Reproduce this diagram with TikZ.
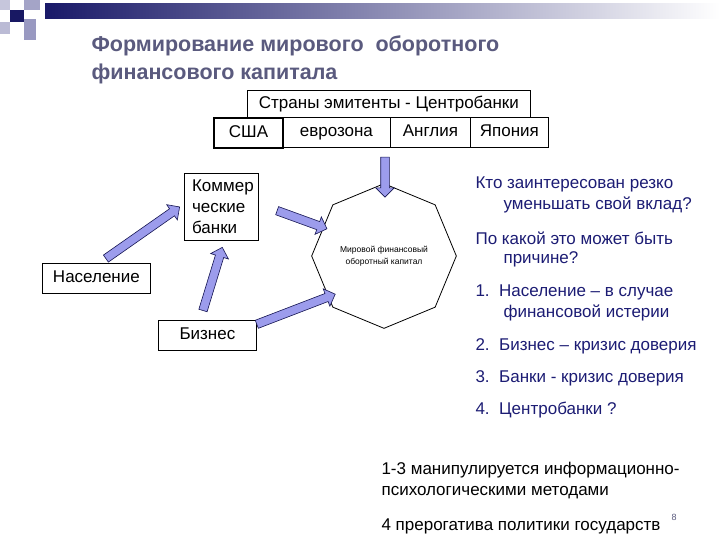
\documentclass[tikz,border=0pt]{standalone}
\usepackage{fontspec}
\setmainfont{Liberation Sans}
\usetikzlibrary{shapes.geometric,shapes.arrows}
\definecolor{ttl}{HTML}{5A5A7E}
\definecolor{nav}{HTML}{1C1C74}
\definecolor{afill}{HTML}{9C9CEC}
\tikzset{box/.style={draw,line width=0.8pt,inner sep=0pt,anchor=north west,text height=12pt,text depth=3pt},
fat/.style={single arrow,draw=nav!70!black,fill=afill,line width=0.6pt,single arrow head extend=5pt,single arrow head indent=0pt,inner sep=4pt,anchor=center},
rt/.style={anchor=west,text=nav,font=\fontsize{17}{20}\selectfont,align=left}}
\begin{document}
\begin{tikzpicture}[x=1pt,y=-1pt]
\useasboundingbox (0,0) rectangle (720,540);
\fill[white] (0,0) rectangle (720,540);
% decoration
\shade[left color=nav!90!black,right color=white] (45,4) rectangle (720,19);
\fill[nav!25] (0,0) rectangle (10,10);
\fill[nav!40] (24,0) rectangle (40,10);
\fill[nav!85!black] (10,10) rectangle (24,22);
\fill[nav!30] (0,22) rectangle (10,34);
\fill[nav!45] (24,19) rectangle (36,40);
\node[anchor=west,text=ttl,font=\bfseries\fontsize{21.5}{26}\selectfont] (t1) at (88,46) {Формирование мирового\ \ оборотного};
\node[anchor=west,text=ttl,font=\bfseries\fontsize{21.5}{26}\selectfont] (t2) at (88,74) {финансового капитала};
\begin{scope}[font=\fontsize{17}{21}\selectfont]
\node[box,minimum width=283pt,minimum height=27pt] (cb) at (247,90) {Страны эмитенты - Центробанки};
\node[box,minimum width=108pt,minimum height=30pt] (eu) at (282,117) {еврозона};
\node[box,minimum width=80pt,minimum height=30pt] (en) at (390,117) {Англия};
\node[box,minimum width=78pt,minimum height=30pt] (jp) at (470,117) {Япония};
\node[box,line width=2pt,minimum width=69pt,minimum height=30pt] (us) at (213,117) {США};
\node[draw,line width=0.8pt,inner sep=0pt,anchor=north west,minimum width=74pt,minimum height=67pt,align=left,text width=70pt,font=\fontsize{17}{21}\selectfont] (kb) at (184,173) {\ Коммер\\ \ ческие\\ \ банки};
\node[box,minimum width=108pt,minimum height=30pt] (pop) at (42,263) {Население};
\node[box,minimum width=98pt,minimum height=30pt] (biz) at (158,320) {Бизнес};
\end{scope}
\node[draw,line width=0.8pt,regular polygon,regular polygon sides=8,shape border rotate=22.5,minimum size=116pt,align=center,font=\fontsize{8.5}{12}\selectfont] (oct) at (384,256) {Мировой финансовый\\оборотный капитал};
% arrows
\node[fat,rotate=35,minimum height=90pt] (a1) at (141,234) {};
\node[fat,rotate=73,minimum height=66pt] (a2) at (212,281) {};
\node[fat,rotate=-20,minimum height=53pt] (a3) at (300,219) {};
\node[fat,rotate=21,minimum height=84pt] (a4) at (294,310) {};
\node[fat,rotate=-90,minimum height=40pt] (a5) at (385,175) {};
% right texts
\node[rt] (q1) at (472,184) {Кто заинтересован резко};
\node[rt] (q1b) at (500,205) {уменьшать свой вклад?};
\node[rt] (q2) at (472,238) {По какой это может быть};
\node[rt] (q2b) at (500,259) {причине?};
\node[rt] (l1) at (472,292) {1.\ \ Население – в случае};
\node[rt] (l1b) at (500,313) {финансовой истерии};
\node[rt] (l2) at (472,346) {2.\ \ Бизнес – кризис доверия};
\node[rt] (l3) at (472,378) {3.\ \ Банки - кризис доверия};
\node[rt] (l4) at (472,410) {4.\ \ Центробанки ?};
\node[anchor=west,font=\fontsize{17}{20}\selectfont] (b1) at (378,470) {1-3 манипулируется информационно-};
\node[anchor=west,font=\fontsize{17}{20}\selectfont] (b2) at (378,493) {психологическими методами};
\node[anchor=west,font=\fontsize{17}{20}\selectfont] (b3) at (378,526) {4 прерогатива политики государств};
\node[font=\fontsize{9}{10}\selectfont,text=ttl] (pg) at (674,517) {8};
\end{tikzpicture}
\end{document}
